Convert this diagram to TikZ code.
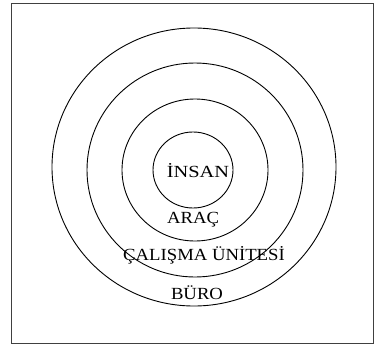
\documentclass[tikz,border=0pt]{standalone}
\usepackage{fontspec}
\setmainfont{Liberation Serif}
\usetikzlibrary{shapes.geometric}
\begin{document}
\begin{tikzpicture}[x=1pt,y=-1pt,
  ring/.style={draw=black, line width=0.9pt, ellipse, inner sep=0pt},
  lbl/.style={font=\fontsize{17}{17}\selectfont, inner sep=0pt, text=black}]
\useasboundingbox (0,0) rectangle (377,345);
\node[draw=black!75, line width=0.9pt, minimum width=362pt, minimum height=340pt, inner sep=0pt] (frame) at (192,173) {};
\node[ring, minimum width=284pt, minimum height=278pt] (buro) at (194,167) {};
\node[ring, minimum width=216pt, minimum height=214pt] (unite) at (195,170) {};
\node[ring, minimum width=146pt, minimum height=142pt] (arac) at (195,170) {};
\node[ring, minimum width=80pt, minimum height=76pt] (insan) at (193,170) {};
\node[lbl, xscale=1.2] (tinsan) at (198,171) {İNSAN};
\node[lbl, xscale=1.1] (tarac) at (193,220) {ARAÇ};
\node[lbl, xscale=1.1] (tunite) at (204,255) {ÇALIŞMA ÜNİTESİ};
\node[lbl, xscale=1.1] (tburo) at (197,293) {BÜRO};
\end{tikzpicture}
\end{document}
